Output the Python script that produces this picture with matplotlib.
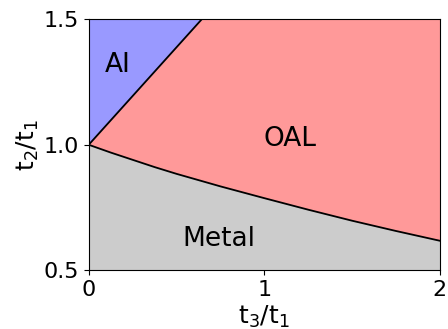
import matplotlib
matplotlib.use("Agg")
import matplotlib.pyplot as plt
import numpy as np

# Boundary between AI and OAL (straight line)
ai_x = [0.0, 0.643]
ai_y = [1.0, 1.5]

# Boundary between OAL and Metal
metal_x = [0.0, 0.125, 0.25, 0.375, 0.5, 0.75, 1.0, 1.25, 1.5, 1.75, 2.0]
metal_y = [1.0, 0.969, 0.940, 0.911, 0.884, 0.834, 0.787, 0.741, 0.697, 0.656, 0.617]

region_labels = ["AI", "OAL", "Metal"]
label_pos = [(0.167, 1.318), (1.147, 1.023), (0.743, 0.624)]

xticks = [0, 1, 2]
yticks = [0.5, 1.0, 1.5]
xlim = (0, 2)
ylim = (0.5, 1.5)

fig = plt.figure(figsize=(4.48, 3.29), dpi=100)
ax = fig.add_axes([0.198, 0.179, 0.784, 0.762])

# OAL background
ax.fill_between([xlim[0], xlim[1]], ylim[0], ylim[1], color="#ff9999", lw=0)
# AI region
ax.fill_between(ai_x, ai_y, ylim[1], color="#9999ff", lw=0)
# Metal region
ax.fill_between(metal_x, ylim[0], metal_y, color="#cccccc", lw=0)

ax.plot(ai_x, ai_y, color="black", lw=1.3)
ax.plot(metal_x, metal_y, color="black", lw=1.3)

for lab, (px, py) in zip(region_labels, label_pos):
    ax.text(px, py, lab, ha="center", va="center", fontsize=19)

ax.set_xlim(*xlim)
ax.set_ylim(*ylim)
ax.set_xticks(xticks)
ax.set_xticklabels([str(t) for t in xticks])
ax.set_yticks(yticks)
ax.set_yticklabels(["%.1f" % t for t in yticks])
ax.tick_params(labelsize=16)
ax.set_xlabel(r"$\mathrm{t_3/t_1}$", fontsize=18, labelpad=3)
ax.set_ylabel(r"$\mathrm{t_2/t_1}$", fontsize=18, labelpad=2)

fig.savefig("out.png", dpi=100)
